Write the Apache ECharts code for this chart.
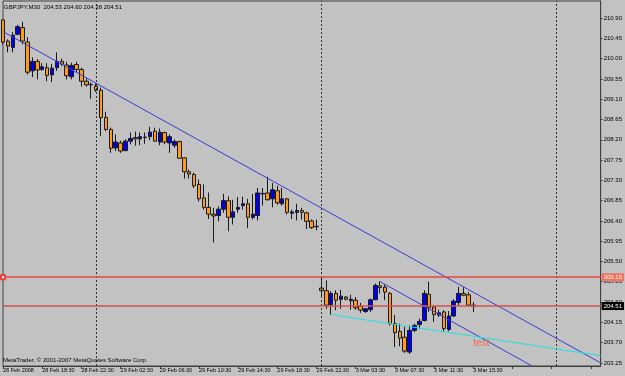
<!DOCTYPE html>
<html>
<head>
<meta charset="utf-8">
<script src="https://cdn.jsdelivr.net/npm/echarts@6/dist/echarts.min.js"></script>
<style>
html, body { margin: 0; padding: 0; background: #c2c2c2; }
#chart { width: 625px; height: 376px; }
</style>
</head>
<body>
<div id="chart"></div>
<script>
// GBPJPY M30 candles
const titleText = 'GBPJPY,M30  204.53 204.60 204.38 204.51'
const copyrightText = 'MetaTrader, \u00a9 2001-2007 MetaQuotes Software Corp.'

// one label every 8 bars, starting at bar 0
const timeLabels = ['28 Feb 2008', '28 Feb 18:30', '28 Feb 22:30', '29 Feb 02:30', '29 Feb 06:30',
  '29 Feb 10:30', '29 Feb 14:30', '29 Feb 18:30', '29 Feb 22:30', '3 Mar 03:30', '3 Mar 07:30',
  '3 Mar 11:30', '3 Mar 15:30']

const opens = [210.86, 210.39, 210.25, 210.54, 210.69, 210.37, 209.73, 209.94, 209.76, 209.80,
  209.64, 209.80, 209.94, 209.86, 209.60, 209.87, 209.76, 209.50, 209.43, 209.39,
  209.30, 208.70, 208.43, 208.02, 208.13, 207.96, 208.17, 208.25, 208.22, 208.26,
  208.27, 208.39, 208.15, 208.36, 208.13, 208.08, 208.16, 207.80, 207.49, 207.43,
  207.21, 206.91, 206.70, 206.55, 206.52, 206.66, 206.85, 206.48, 206.66, 206.74,
  206.78, 206.48, 206.52, 207.00, 207.02, 206.89, 207.07, 206.78, 206.89, 206.57,
  206.59, 206.63, 206.58, 206.40, 206.28,
  204.91, 204.85, 204.54, 204.79, 204.66, 204.71, 204.63, 204.64, 204.51, 204.39,
  204.43, 204.65, 204.96, 204.93, 204.79, 204.12, 203.95, 203.82, 203.49, 203.97,
  204.10, 204.19, 204.77, 204.49, 204.31, 204.38, 203.99, 204.29, 204.59, 204.79,
  204.76, 204.53]
const closes = [210.37, 210.28, 210.52, 210.71, 210.39, 209.70, 209.94, 209.75, 209.82, 209.63,
  209.79, 209.94, 209.88, 209.62, 209.85, 209.76, 209.50, 209.42, 209.42, 209.30,
  208.69, 208.43, 208.01, 208.15, 207.95, 208.17, 208.23, 208.22, 208.27, 208.25,
  208.37, 208.17, 208.37, 208.15, 208.27, 208.16, 207.79, 207.49, 207.44, 207.18,
  206.89, 206.70, 206.55, 206.51, 206.66, 206.85, 206.48, 206.60, 206.70, 206.78,
  206.48, 206.55, 207.02, 207.01, 206.87, 207.09, 206.80, 206.89, 206.59, 206.60,
  206.63, 206.59, 206.39, 206.25, 206.27,
  204.85, 204.53, 204.79, 204.64, 204.73, 204.66, 204.66, 204.47, 204.42, 204.45,
  204.65, 204.97, 204.92, 204.82, 204.12, 203.92, 203.80, 203.51, 203.97, 204.08,
  204.17, 204.79, 204.47, 204.32, 204.36, 204.01, 204.29, 204.62, 204.79, 204.75,
  204.53, 204.51]
const lows = [210.32, 210.14, 210.14, 210.52, 210.32, 209.65, 209.59, 209.54, 209.73, 209.50,
  209.48, 209.73, 209.84, 209.54, 209.54, 209.69, 209.38, 209.38, 209.11, 209.26,
  208.28, 208.39, 207.91, 207.95, 207.91, 207.95, 208.10, 208.07, 208.08, 208.11,
  208.19, 208.16, 208.08, 208.10, 207.91, 208.02, 207.78, 207.34, 207.34, 207.13,
  206.83, 206.65, 206.44, 205.92, 206.39, 206.58, 206.17, 206.32, 206.58, 206.65,
  206.24, 206.43, 206.41, 206.74, 206.85, 206.70, 206.76, 206.74, 206.54, 206.44,
  206.41, 206.43, 206.22, 206.22, 206.19,
  204.72, 204.45, 204.32, 204.42, 204.45, 204.64, 204.43, 204.43, 204.36, 204.36,
  204.38, 204.64, 204.79, 204.64, 204.08, 203.60, 203.62, 203.47, 203.45, 203.93,
  204.01, 204.17, 204.38, 204.16, 204.27, 203.95, 203.95, 204.27, 204.53, 204.73,
  204.50, 204.38]
const highs = [210.88, 210.43, 210.59, 210.75, 210.82, 210.48, 210.03, 209.99, 209.90, 209.90,
  209.88, 210.14, 210.00, 209.93, 209.91, 209.93, 209.80, 209.56, 209.47, 209.45,
  209.36, 208.82, 208.47, 208.32, 208.18, 208.21, 208.36, 208.38, 208.36, 208.36,
  208.49, 208.47, 208.45, 208.38, 208.32, 208.21, 208.18, 207.81, 207.54, 207.47,
  207.32, 207.21, 207.03, 206.69, 206.72, 207.00, 206.94, 206.87, 206.93, 206.94,
  206.89, 207.00, 207.13, 207.13, 207.38, 207.24, 207.18, 207.13, 206.91, 206.65,
  206.78, 206.69, 206.60, 206.43, 206.43,
  205.16, 205.08, 204.84, 204.86, 204.87, 204.73, 204.76, 204.71, 204.58, 204.47,
  204.68, 205.01, 205.06, 204.99, 204.82, 204.31, 204.12, 204.05, 204.08, 204.12,
  204.23, 204.86, 205.05, 204.53, 204.43, 204.42, 204.40, 204.66, 204.94, 204.93,
  204.82, 204.60]

const priceTicks = [203.25, 203.70, 204.15, 204.60, 205.05, 205.50, 205.95, 206.40, 206.85,
  207.30, 207.75, 208.20, 208.65, 209.10, 209.55, 210.00, 210.45, 210.90]

// objects drawn on the chart: [bar index, price]
const resistanceLevel = 205.15
const bidPrice = 204.51
const daySeparators = [19, 65, 113]
const channelTop = [[0, 210.60], [122, 203.25]]
const channelBottom = [[77, 205.05], [108, 203.18]]
const supportLine = [[67, 204.32], [122, 203.41]]
const noteText = 'test'
const notePoint = [96, 203.69]

const slotCount = 123 // bars visible across the window incl. empty space on the right

const categories = []
for (let i = 0; i < slotCount; i++) categories.push(String(i))
const candles = opens.map((o, i) => [o, closes[i], lows[i], highs[i]])

const font = 'Liberation Sans, Arial, sans-serif'

const options = {
  backgroundColor: '#c2c2c2',
  animation: false,
  title: [
    {
      text: titleText,
      left: 4,
      top: 4,
      padding: 0,
      textStyle: { fontSize: 6, fontWeight: 'normal', color: '#000', fontFamily: font }
    },
    {
      text: copyrightText,
      left: 3,
      top: 357,
      padding: 0,
      textStyle: { fontSize: 6, fontWeight: 'normal', color: '#000', fontFamily: font }
    }
  ],
  grid: {
    left: 1,
    top: 1,
    right: 24,
    bottom: 10,
    show: true,
    borderColor: '#404040',
    borderWidth: 1
  },
  xAxis: {
    type: 'category',
    data: categories,
    boundaryGap: false,
    axisLine: { lineStyle: { color: '#404040' } },
    axisTick: { show: true, interval: 7, length: 3, lineStyle: { color: '#404040' } },
    axisLabel: {
      interval: 7,
      align: 'left',
      margin: 1,
      fontSize: 5.5,
      color: '#000',
      fontFamily: font,
      formatter: (v, idx) => (idx % 8 === 0 && timeLabels[idx / 8]) || ''
    },
    splitLine: { show: false }
  },
  yAxis: {
    type: 'value',
    position: 'right',
    min: 203.18,
    max: 211.28,
    scale: true,
    axisLine: { show: true, lineStyle: { color: '#404040' } },
    axisTick: { show: true, length: 2, customValues: priceTicks, lineStyle: { color: '#404040' } },
    axisLabel: {
      customValues: priceTicks,
      margin: 3,
      fontSize: 6,
      color: '#000',
      fontFamily: font,
      formatter: v => v.toFixed(2)
    },
    splitLine: { show: false }
  },
  series: [
    {
      type: 'candlestick',
      data: candles,
      barWidth: 4,
      itemStyle: {
        color: '#0000ee',
        color0: '#ff9a1a',
        borderColor: '#1a1a1a',
        borderColor0: '#1a1a1a',
        borderWidth: 1
      },
      markLine: {
        silent: true,
        animation: false,
        symbol: ['none', 'none'],
        label: { show: false },
        data: [
          ...daySeparators.map(i => ({
            xAxis: i,
            lineStyle: { color: '#303030', type: [2, 2], width: 1 }
          })),
          [
            { coord: channelTop[0], lineStyle: { color: '#3b3bd6', type: 'solid', width: 1 } },
            { coord: channelTop[1] }
          ],
          [
            { coord: channelBottom[0], lineStyle: { color: '#3b3bd6', type: 'solid', width: 1 } },
            { coord: channelBottom[1] }
          ],
          [
            { coord: supportLine[0], lineStyle: { color: '#1ee3e6', type: 'solid', width: 1 } },
            { coord: supportLine[1] }
          ],
          {
            yAxis: resistanceLevel,
            symbol: 'emptyRect',
            symbolSize: 4,
            lineStyle: { color: '#e8443a', type: 'solid', width: 1.5, opacity: 1 },
            itemStyle: { color: '#e8443a' },
            label: {
              show: true,
              position: 'end',
              distance: 1,
              formatter: resistanceLevel.toFixed(2),
              backgroundColor: '#f4735e',
              color: '#fff',
              fontSize: 6,
              fontFamily: font,
              padding: [1, 2, 1, 2]
            }
          },
          {
            yAxis: bidPrice,
            lineStyle: { color: '#d8504a', type: 'solid', width: 1.5 },
            label: {
              show: true,
              position: 'end',
              distance: 1,
              formatter: bidPrice.toFixed(2),
              backgroundColor: '#000',
              color: '#fff',
              fontSize: 6,
              fontFamily: font,
              padding: [1, 2, 1, 2]
            }
          }
        ]
      },
      markPoint: {
        silent: true,
        animation: false,
        symbol: 'circle',
        symbolSize: 0,
        data: [{ coord: notePoint, value: noteText }],
        label: {
          show: true,
          position: 'right',
          distance: 0,
          formatter: noteText,
          color: '#f06a4c',
          fontSize: 10,
          fontFamily: font
        }
      }
    }
  ]
}

const chart = echarts.init(document.getElementById('chart'))
chart.setOption(options)
window.addEventListener('resize', function () {
  chart && chart.resize()
})
</script>
</body>
</html>
